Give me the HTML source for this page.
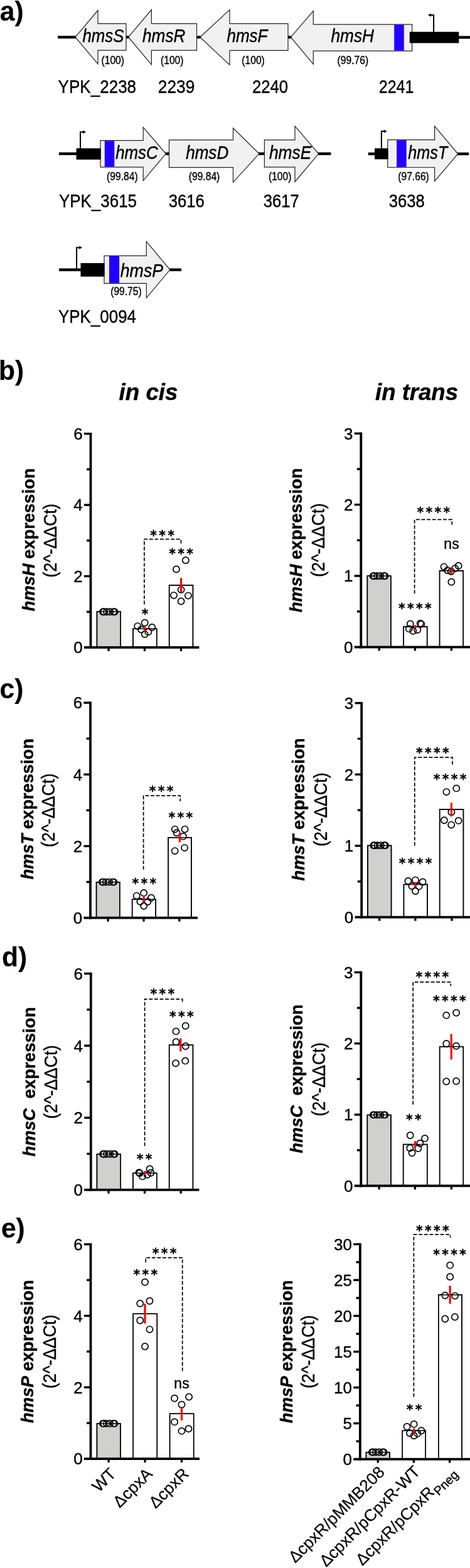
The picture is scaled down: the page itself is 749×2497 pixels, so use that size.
<!DOCTYPE html>
<html lang="en">
<head>
<meta charset="utf-8">
<title>hms loci and expression in cpx mutants</title>
<style>
html,body{margin:0;padding:0;background:#fff}
body{width:749px;height:2497px;overflow:hidden}
svg{display:block;font-family:'Liberation Sans', Arial, Helvetica, sans-serif;fill:#000}
svg text{white-space:pre;stroke:#000;stroke-width:.4px}
</style>
</head>
<body>
<svg width="749" height="2497" viewBox="0 0 749 2497">
<rect x="0" y="0" width="749" height="2497" fill="#fff"/>
<rect x="92" y="57" width="29" height="4.4" fill="#000"/>
<rect x="200" y="57" width="6" height="4.4" fill="#000"/>
<rect x="313" y="57" width="7" height="4.4" fill="#000"/>
<rect x="458" y="57" width="7" height="4.4" fill="#000"/>
<rect x="731" y="57.3" width="18" height="4.4" fill="#000"/>
<rect x="93.9" y="242.6" width="28.1" height="4.4" fill="#000"/>
<rect x="263" y="242.6" width="7" height="4.4" fill="#000"/>
<rect x="411" y="242.6" width="11" height="4.4" fill="#000"/>
<rect x="506" y="242.6" width="21.4" height="4.4" fill="#000"/>
<rect x="586.8" y="242.8" width="11.2" height="4.4" fill="#000"/>
<rect x="728" y="242.8" width="19" height="4.4" fill="#000"/>
<rect x="94.1" y="427.4" width="34.9" height="4.4" fill="#000"/>
<rect x="269.5" y="427.4" width="19.6" height="4.4" fill="#000"/>
<polygon points="120,59.2 156,16.5 156,37.6 201,37.6 201,80.2 156,80.2 156,101.8" fill="#f1f1f1" stroke="#222" stroke-width="1.2" stroke-linejoin="miter"/>
<text x="131.5" y="67.3" font-size="29.5" font-style="italic" textLength="66" lengthAdjust="spacingAndGlyphs">hmsS</text>
<text x="161.5" y="102" font-size="17.6" textLength="36.5" lengthAdjust="spacingAndGlyphs">(100)</text>
<polygon points="204.6,59.2 241.4,15.5 241.4,37.6 313.5,37.6 313.5,80.2 241.4,80.2 241.4,102.8" fill="#f1f1f1" stroke="#222" stroke-width="1.2" stroke-linejoin="miter"/>
<text x="227" y="67.3" font-size="29.5" font-style="italic" textLength="68.5" lengthAdjust="spacingAndGlyphs">hmsR</text>
<text x="256" y="102" font-size="17.6" textLength="36.5" lengthAdjust="spacingAndGlyphs">(100)</text>
<polygon points="318.8,59.2 366,15.5 366,37.6 459,37.6 459,80.4 366,80.4 366,103.4" fill="#f1f1f1" stroke="#222" stroke-width="1.2" stroke-linejoin="miter"/>
<text x="361.5" y="67.3" font-size="29.5" font-style="italic" textLength="65" lengthAdjust="spacingAndGlyphs">hmsF</text>
<text x="385.3" y="102" font-size="17.6" textLength="36.5" lengthAdjust="spacingAndGlyphs">(100)</text>
<polygon points="463.5,59.2 499.3,17.4 499.3,38.8 656.7,38.8 656.7,81.2 499.3,81.2 499.3,102.3" fill="#f1f1f1" stroke="#222" stroke-width="1.2" stroke-linejoin="miter"/>
<rect x="628.2" y="39.4" width="15.6" height="41.2" fill="#2200ff"/>
<text x="527.5" y="67.3" font-size="29.5" font-style="italic" textLength="68.5" lengthAdjust="spacingAndGlyphs">hmsH</text>
<text x="537.6" y="102" font-size="17.6" textLength="49.5" lengthAdjust="spacingAndGlyphs">(99.76)</text>
<polygon points="160,223.7 228.2,223.7 228.2,202.7 264.4,244.8 228.2,287.6 228.2,266.2 160,266.2" fill="#f1f1f1" stroke="#222" stroke-width="1.2" stroke-linejoin="miter"/>
<rect x="166.8" y="224.3" width="15.5" height="41.3" fill="#2200ff"/>
<text x="184.2" y="252.6" font-size="29.5" font-style="italic" textLength="67.5" lengthAdjust="spacingAndGlyphs">hmsC</text>
<text x="170.1" y="287.3" font-size="17.6" textLength="49.5" lengthAdjust="spacingAndGlyphs">(99.84)</text>
<polygon points="269.5,222.9 371.5,222.9 371.5,204 412.9,244.8 371.5,290.3 371.5,266.6 269.5,266.6" fill="#f1f1f1" stroke="#222" stroke-width="1.2" stroke-linejoin="miter"/>
<text x="296.2" y="252.6" font-size="29.5" font-style="italic" textLength="68" lengthAdjust="spacingAndGlyphs">hmsD</text>
<text x="300.8" y="287.3" font-size="17.6" textLength="49.5" lengthAdjust="spacingAndGlyphs">(99.84)</text>
<polygon points="421.4,222.9 470,222.9 470,200.8 507.6,244.8 470,289.5 470,266.2 421.4,266.2" fill="#f1f1f1" stroke="#222" stroke-width="1.2" stroke-linejoin="miter"/>
<text x="428.9" y="252.6" font-size="29.5" font-style="italic" textLength="67.5" lengthAdjust="spacingAndGlyphs">hmsE</text>
<text x="427.9" y="287.3" font-size="17.6" textLength="36.5" lengthAdjust="spacingAndGlyphs">(100)</text>
<polygon points="617.8,222.7 692.6,222.7 692.6,200.8 729.7,245 692.6,288.7 692.6,266.5 617.8,266.5" fill="#f1f1f1" stroke="#222" stroke-width="1.2" stroke-linejoin="miter"/>
<rect x="632.1" y="223.3" width="15.6" height="42.6" fill="#2200ff"/>
<text x="650.3" y="253.2" font-size="29.5" font-style="italic" textLength="63" lengthAdjust="spacingAndGlyphs">hmsT</text>
<text x="634.3" y="286.6" font-size="17.6" textLength="49.5" lengthAdjust="spacingAndGlyphs">(97.66)</text>
<polygon points="166,407.3 233.3,407.3 233.3,384.7 270.9,429.6 233.3,474.3 233.3,451.4 166,451.4" fill="#f1f1f1" stroke="#222" stroke-width="1.2" stroke-linejoin="miter"/>
<rect x="174" y="407.9" width="16.1" height="42.9" fill="#2200ff"/>
<text x="191.7" y="441" font-size="29.5" font-style="italic" textLength="68.5" lengthAdjust="spacingAndGlyphs">hmsP</text>
<text x="176.2" y="470.3" font-size="17.6" textLength="49.5" lengthAdjust="spacingAndGlyphs">(99.75)</text>
<rect x="652.7" y="50.7" width="78.6" height="17.9" fill="#000"/>
<rect x="121.6" y="236.2" width="39" height="18" fill="#000"/>
<rect x="597" y="236.2" width="21.5" height="17.4" fill="#000"/>
<rect x="128.5" y="419" width="38.1" height="21.5" fill="#000"/>
<path d="M691.1 51 V24 H686.5" fill="none" stroke="#000" stroke-width="2" stroke-linejoin="miter"/>
<polygon points="687,21.3 682,24 687,26.7" fill="#000"/>
<path d="M128.1 236.5 V210.2 H132.6" fill="none" stroke="#000" stroke-width="2" stroke-linejoin="miter"/>
<polygon points="132.1,207.5 137.1,210.2 132.1,212.9" fill="#000"/>
<path d="M607.9 236.5 V209.1 H612.3" fill="none" stroke="#000" stroke-width="2" stroke-linejoin="miter"/>
<polygon points="611.8,206.4 616.8,209.1 611.8,211.8" fill="#000"/>
<path d="M122.1 428 V394.2 H126.6" fill="none" stroke="#000" stroke-width="2" stroke-linejoin="miter"/>
<polygon points="126.1,391.5 131.1,394.2 126.1,396.9" fill="#000"/>
<text x="92.6" y="148.4" font-size="30" textLength="124.5" lengthAdjust="spacingAndGlyphs">YPK_2238</text>
<text x="251.8" y="148.4" font-size="30" textLength="58.5" lengthAdjust="spacingAndGlyphs">2239</text>
<text x="401.9" y="148.4" font-size="30" textLength="57.3" lengthAdjust="spacingAndGlyphs">2240</text>
<text x="603.8" y="148.4" font-size="30" textLength="55.6" lengthAdjust="spacingAndGlyphs">2241</text>
<text x="94" y="330" font-size="30" textLength="124" lengthAdjust="spacingAndGlyphs">YPK_3615</text>
<text x="268.8" y="330" font-size="30" textLength="57" lengthAdjust="spacingAndGlyphs">3616</text>
<text x="419.8" y="330" font-size="30" textLength="57" lengthAdjust="spacingAndGlyphs">3617</text>
<text x="619.8" y="330" font-size="30" textLength="57" lengthAdjust="spacingAndGlyphs">3638</text>
<text x="93" y="513.5" font-size="30" textLength="124" lengthAdjust="spacingAndGlyphs">YPK_0094</text>
<text x="-0.3" y="33.3" font-size="44.6" font-weight="bold" textLength="37.9" lengthAdjust="spacingAndGlyphs" style="stroke-width:.15px">a)</text>
<text x="-2.1" y="605.2" font-size="44.6" font-weight="bold" textLength="40.2" lengthAdjust="spacingAndGlyphs" style="stroke-width:.15px">b)</text>
<text x="-0.5" y="1112.2" font-size="44.6" font-weight="bold" textLength="37.9" lengthAdjust="spacingAndGlyphs" style="stroke-width:.15px">c)</text>
<text x="2.9" y="1538.9" font-size="44.6" font-weight="bold" textLength="40.2" lengthAdjust="spacingAndGlyphs" style="stroke-width:.15px">d)</text>
<text x="1.9" y="1970.9" font-size="44.6" font-weight="bold" textLength="37.9" lengthAdjust="spacingAndGlyphs" style="stroke-width:.15px">e)</text>
<text x="189.5" y="636.9" font-size="36" font-weight="bold" font-style="italic" textLength="94" lengthAdjust="spacingAndGlyphs">in cis</text>
<text x="598" y="636.9" font-size="36" font-weight="bold" font-style="italic" textLength="132" lengthAdjust="spacingAndGlyphs">in trans</text>
<rect x="154.45" y="974.05" width="37.8" height="56.95" fill="#d0d0ce" stroke="#000" stroke-width="1.5"/>
<rect x="211.95" y="1001.35" width="37.8" height="29.65" fill="#fff" stroke="#000" stroke-width="1.5"/>
<rect x="269.65" y="931.95" width="37.8" height="99.05" fill="#fff" stroke="#000" stroke-width="1.5"/>
<rect x="142.6" y="689" width="3.8" height="343.9" fill="#000"/>
<rect x="142.6" y="1029.1" width="174.8" height="3.8" fill="#000"/>
<rect x="133.9" y="1029.1" width="10.6" height="3.8" fill="#000"/>
<text x="131.6" y="1040.3" font-size="26" text-anchor="end">0</text>
<rect x="138.1" y="972.58" width="6.4" height="3.4" fill="#000"/>
<rect x="133.9" y="915.87" width="10.6" height="3.4" fill="#000"/>
<text x="131.6" y="926.87" font-size="26" text-anchor="end">2</text>
<rect x="138.1" y="859.15" width="6.4" height="3.4" fill="#000"/>
<rect x="133.9" y="802.43" width="10.6" height="3.4" fill="#000"/>
<text x="131.6" y="813.43" font-size="26" text-anchor="end">4</text>
<rect x="138.1" y="745.72" width="6.4" height="3.4" fill="#000"/>
<rect x="133.9" y="689" width="10.6" height="3.4" fill="#000"/>
<text x="131.6" y="700" font-size="26" text-anchor="end">6</text>
<rect x="171.45" y="1031" width="3.3" height="5.9" fill="#000"/>
<rect x="228.85" y="1031" width="3.3" height="5.9" fill="#000"/>
<rect x="286.85" y="1031" width="3.3" height="5.9" fill="#000"/>
<circle cx="164.05" cy="974.3" r="5.1" fill="#fff"/>
<circle cx="165.65" cy="974.3" r="5.1" fill="#fff"/>
<circle cx="170.05" cy="974.3" r="5.1" fill="#fff"/>
<circle cx="175.45" cy="974.3" r="5.1" fill="#fff"/>
<circle cx="180.95" cy="974.3" r="5.1" fill="#fff"/>
<circle cx="182.65" cy="974.3" r="5.1" fill="#fff"/>
<circle cx="230.7" cy="991.8" r="5.1" fill="#fff"/>
<circle cx="219.3" cy="997.1" r="5.1" fill="#fff"/>
<circle cx="242.3" cy="999" r="5.1" fill="#fff"/>
<circle cx="225.1" cy="1002.5" r="5.1" fill="#fff"/>
<circle cx="236.4" cy="1006.4" r="5.1" fill="#fff"/>
<circle cx="230.7" cy="1010.1" r="5.1" fill="#fff"/>
<circle cx="295.9" cy="892.3" r="5.1" fill="#fff"/>
<circle cx="281" cy="906.5" r="5.1" fill="#fff"/>
<circle cx="288.6" cy="939.1" r="5.1" fill="#fff"/>
<circle cx="277" cy="948.1" r="5.1" fill="#fff"/>
<circle cx="299.9" cy="948.6" r="5.1" fill="#fff"/>
<circle cx="288.6" cy="957.5" r="5.1" fill="#fff"/>
<path d="M154.45 1031 V974.05 H192.25 V1031" fill="none" stroke="#000" stroke-width="1.5"/>
<path d="M211.95 1031 V1001.35 H249.75 V1031" fill="none" stroke="#000" stroke-width="1.5"/>
<path d="M269.65 1031 V931.95 H307.45 V1031" fill="none" stroke="#000" stroke-width="1.5"/>
<circle cx="164.05" cy="974.3" r="5.1" fill="none" stroke="#000" stroke-width="1.7"/>
<circle cx="165.65" cy="974.3" r="5.1" fill="none" stroke="#000" stroke-width="1.7"/>
<circle cx="170.05" cy="974.3" r="5.1" fill="none" stroke="#000" stroke-width="1.7"/>
<circle cx="175.45" cy="974.3" r="5.1" fill="none" stroke="#000" stroke-width="1.7"/>
<circle cx="180.95" cy="974.3" r="5.1" fill="none" stroke="#000" stroke-width="1.7"/>
<circle cx="182.65" cy="974.3" r="5.1" fill="none" stroke="#000" stroke-width="1.7"/>
<circle cx="230.7" cy="991.8" r="5.1" fill="none" stroke="#000" stroke-width="1.7"/>
<circle cx="219.3" cy="997.1" r="5.1" fill="none" stroke="#000" stroke-width="1.7"/>
<circle cx="242.3" cy="999" r="5.1" fill="none" stroke="#000" stroke-width="1.7"/>
<circle cx="225.1" cy="1002.5" r="5.1" fill="none" stroke="#000" stroke-width="1.7"/>
<circle cx="236.4" cy="1006.4" r="5.1" fill="none" stroke="#000" stroke-width="1.7"/>
<circle cx="230.7" cy="1010.1" r="5.1" fill="none" stroke="#000" stroke-width="1.7"/>
<circle cx="295.9" cy="892.3" r="5.1" fill="none" stroke="#000" stroke-width="1.7"/>
<circle cx="281" cy="906.5" r="5.1" fill="none" stroke="#000" stroke-width="1.7"/>
<circle cx="288.6" cy="939.1" r="5.1" fill="none" stroke="#000" stroke-width="1.7"/>
<circle cx="277" cy="948.1" r="5.1" fill="none" stroke="#000" stroke-width="1.7"/>
<circle cx="299.9" cy="948.6" r="5.1" fill="none" stroke="#000" stroke-width="1.7"/>
<circle cx="288.6" cy="957.5" r="5.1" fill="none" stroke="#000" stroke-width="1.7"/>
<line x1="230.7" y1="998.6" x2="230.7" y2="1004.1" stroke="#ff0000" stroke-width="3.2" stroke-linecap="round"/>
<line x1="288.6" y1="921.6" x2="288.6" y2="942.4" stroke="#ff0000" stroke-width="3.2" stroke-linecap="round"/>
<path d="M229.9 962.4 V858.6 H288.4 V865.4" fill="none" stroke="#000" stroke-width="1.7" stroke-dasharray="5.8 2.8"/>
<text x="239.2 253.2 267.2" y="859.9" font-size="20.4" font-family="'DejaVu Sans','Liberation Sans',sans-serif" font-weight="bold" style="stroke-width:.35px">***</text>
<text x="269.2 283.2 297.2" y="888.8" font-size="20.4" font-family="'DejaVu Sans','Liberation Sans',sans-serif" font-weight="bold" style="stroke-width:.35px">***</text>
<text x="225.7" y="984.6" font-size="20.4" font-family="'DejaVu Sans','Liberation Sans',sans-serif" font-weight="bold" style="stroke-width:.35px">*</text>
<text transform="translate(55.4 859.5) rotate(-90)" font-size="27.6" font-weight="bold" text-anchor="middle" textLength="228" lengthAdjust="spacingAndGlyphs"><tspan font-style="italic">hmsH</tspan> expression</text>
<text transform="translate(90.2 860.8) rotate(-90)" font-size="29" text-anchor="middle" textLength="117.7" lengthAdjust="spacingAndGlyphs">(2^-ΔΔCt)</text>
<rect x="585.35" y="917.15" width="37.5" height="113.35" fill="#d0d0ce" stroke="#000" stroke-width="1.5"/>
<rect x="643.15" y="997.95" width="37.5" height="32.55" fill="#fff" stroke="#000" stroke-width="1.5"/>
<rect x="700.55" y="908.95" width="37.7" height="121.55" fill="#fff" stroke="#000" stroke-width="1.5"/>
<rect x="573.4" y="688.6" width="3.8" height="343.8" fill="#000"/>
<rect x="573.4" y="1028.6" width="175.6" height="3.8" fill="#000"/>
<rect x="564.7" y="1028.6" width="10.6" height="3.8" fill="#000"/>
<text x="562.4" y="1039.8" font-size="26" text-anchor="end">0</text>
<rect x="568.9" y="972.1" width="6.4" height="3.4" fill="#000"/>
<rect x="564.7" y="915.4" width="10.6" height="3.4" fill="#000"/>
<text x="562.4" y="926.4" font-size="26" text-anchor="end">1</text>
<rect x="568.9" y="858.7" width="6.4" height="3.4" fill="#000"/>
<rect x="564.7" y="802" width="10.6" height="3.4" fill="#000"/>
<text x="562.4" y="813" font-size="26" text-anchor="end">2</text>
<rect x="568.9" y="745.3" width="6.4" height="3.4" fill="#000"/>
<rect x="564.7" y="688.6" width="10.6" height="3.4" fill="#000"/>
<text x="562.4" y="699.6" font-size="26" text-anchor="end">3</text>
<rect x="602.55" y="1030.5" width="3.3" height="5.9" fill="#000"/>
<rect x="659.75" y="1030.5" width="3.3" height="5.9" fill="#000"/>
<rect x="717.75" y="1030.5" width="3.3" height="5.9" fill="#000"/>
<circle cx="594.8" cy="917.2" r="5.1" fill="#fff"/>
<circle cx="596.4" cy="917.2" r="5.1" fill="#fff"/>
<circle cx="600.8" cy="917.2" r="5.1" fill="#fff"/>
<circle cx="606.2" cy="917.2" r="5.1" fill="#fff"/>
<circle cx="611.7" cy="917.2" r="5.1" fill="#fff"/>
<circle cx="613.4" cy="917.2" r="5.1" fill="#fff"/>
<circle cx="653.8" cy="993.5" r="5.1" fill="#fff"/>
<circle cx="669.8" cy="992.8" r="5.1" fill="#fff"/>
<circle cx="671.4" cy="993.9" r="5.1" fill="#fff"/>
<circle cx="651.8" cy="1001.4" r="5.1" fill="#fff"/>
<circle cx="665.3" cy="1003" r="5.1" fill="#fff"/>
<circle cx="658.3" cy="1004.8" r="5.1" fill="#fff"/>
<circle cx="707.5" cy="902.6" r="5.1" fill="#fff"/>
<circle cx="730.7" cy="901" r="5.1" fill="#fff"/>
<circle cx="725.1" cy="905.3" r="5.1" fill="#fff"/>
<circle cx="713.1" cy="908.2" r="5.1" fill="#fff"/>
<circle cx="718.8" cy="910" r="5.1" fill="#fff"/>
<circle cx="719.4" cy="926.7" r="5.1" fill="#fff"/>
<path d="M585.35 1030.5 V917.15 H622.85 V1030.5" fill="none" stroke="#000" stroke-width="1.5"/>
<path d="M643.15 1030.5 V997.95 H680.65 V1030.5" fill="none" stroke="#000" stroke-width="1.5"/>
<path d="M700.55 1030.5 V908.95 H738.25 V1030.5" fill="none" stroke="#000" stroke-width="1.5"/>
<circle cx="594.8" cy="917.2" r="5.1" fill="none" stroke="#000" stroke-width="1.7"/>
<circle cx="596.4" cy="917.2" r="5.1" fill="none" stroke="#000" stroke-width="1.7"/>
<circle cx="600.8" cy="917.2" r="5.1" fill="none" stroke="#000" stroke-width="1.7"/>
<circle cx="606.2" cy="917.2" r="5.1" fill="none" stroke="#000" stroke-width="1.7"/>
<circle cx="611.7" cy="917.2" r="5.1" fill="none" stroke="#000" stroke-width="1.7"/>
<circle cx="613.4" cy="917.2" r="5.1" fill="none" stroke="#000" stroke-width="1.7"/>
<circle cx="653.8" cy="993.5" r="5.1" fill="none" stroke="#000" stroke-width="1.7"/>
<circle cx="669.8" cy="992.8" r="5.1" fill="none" stroke="#000" stroke-width="1.7"/>
<circle cx="671.4" cy="993.9" r="5.1" fill="none" stroke="#000" stroke-width="1.7"/>
<circle cx="651.8" cy="1001.4" r="5.1" fill="none" stroke="#000" stroke-width="1.7"/>
<circle cx="665.3" cy="1003" r="5.1" fill="none" stroke="#000" stroke-width="1.7"/>
<circle cx="658.3" cy="1004.8" r="5.1" fill="none" stroke="#000" stroke-width="1.7"/>
<circle cx="707.5" cy="902.6" r="5.1" fill="none" stroke="#000" stroke-width="1.7"/>
<circle cx="730.7" cy="901" r="5.1" fill="none" stroke="#000" stroke-width="1.7"/>
<circle cx="725.1" cy="905.3" r="5.1" fill="none" stroke="#000" stroke-width="1.7"/>
<circle cx="713.1" cy="908.2" r="5.1" fill="none" stroke="#000" stroke-width="1.7"/>
<circle cx="718.8" cy="910" r="5.1" fill="none" stroke="#000" stroke-width="1.7"/>
<circle cx="719.4" cy="926.7" r="5.1" fill="none" stroke="#000" stroke-width="1.7"/>
<line x1="661.7" y1="996.6" x2="661.7" y2="999.8" stroke="#ff0000" stroke-width="3.2" stroke-linecap="round"/>
<line x1="719.4" y1="906" x2="719.4" y2="912.7" stroke="#ff0000" stroke-width="3.2" stroke-linecap="round"/>
<path d="M660.6 945.4 V827.4 H720.3 V835.7" fill="none" stroke="#000" stroke-width="1.7" stroke-dasharray="5.8 2.8"/>
<text x="664.5 678.5 692.5 706.5" y="822.7" font-size="20.4" font-family="'DejaVu Sans','Liberation Sans',sans-serif" font-weight="bold" style="stroke-width:.35px">****</text>
<text x="635.1 649.1 663.1 677.1" y="975.7" font-size="20.4" font-family="'DejaVu Sans','Liberation Sans',sans-serif" font-weight="bold" style="stroke-width:.35px">****</text>
<text x="719.5" y="873.9" font-size="23" text-anchor="middle">ns</text>
<text transform="translate(481.3 860.3) rotate(-90)" font-size="27.6" font-weight="bold" text-anchor="middle" textLength="230" lengthAdjust="spacingAndGlyphs"><tspan font-style="italic">hmsH</tspan> expression</text>
<text transform="translate(516.9 860.2) rotate(-90)" font-size="29" text-anchor="middle" textLength="117.7" lengthAdjust="spacingAndGlyphs">(2^-ΔΔCt)</text>
<rect x="153.55" y="1404.75" width="37.2" height="56.85" fill="#d0d0ce" stroke="#000" stroke-width="1.5"/>
<rect x="210.65" y="1432.15" width="37.5" height="29.45" fill="#fff" stroke="#000" stroke-width="1.5"/>
<rect x="268.15" y="1333.75" width="36.8" height="127.85" fill="#fff" stroke="#000" stroke-width="1.5"/>
<rect x="142.1" y="1117.4" width="3.8" height="346.1" fill="#000"/>
<rect x="142.1" y="1459.7" width="172.9" height="3.8" fill="#000"/>
<rect x="133.4" y="1459.7" width="10.6" height="3.8" fill="#000"/>
<text x="131.1" y="1470.9" font-size="26" text-anchor="end">0</text>
<rect x="137.6" y="1402.82" width="6.4" height="3.4" fill="#000"/>
<rect x="133.4" y="1345.73" width="10.6" height="3.4" fill="#000"/>
<text x="131.1" y="1356.73" font-size="26" text-anchor="end">2</text>
<rect x="137.6" y="1288.65" width="6.4" height="3.4" fill="#000"/>
<rect x="133.4" y="1231.57" width="10.6" height="3.4" fill="#000"/>
<text x="131.1" y="1242.57" font-size="26" text-anchor="end">4</text>
<rect x="137.6" y="1174.48" width="6.4" height="3.4" fill="#000"/>
<rect x="133.4" y="1117.4" width="10.6" height="3.4" fill="#000"/>
<text x="131.1" y="1128.4" font-size="26" text-anchor="end">6</text>
<rect x="170.55" y="1461.6" width="3.3" height="5.9" fill="#000"/>
<rect x="227.35" y="1461.6" width="3.3" height="5.9" fill="#000"/>
<rect x="284.15" y="1461.6" width="3.3" height="5.9" fill="#000"/>
<circle cx="162.85" cy="1404.6" r="5.1" fill="#fff"/>
<circle cx="164.45" cy="1404.6" r="5.1" fill="#fff"/>
<circle cx="168.85" cy="1404.6" r="5.1" fill="#fff"/>
<circle cx="174.25" cy="1404.6" r="5.1" fill="#fff"/>
<circle cx="179.75" cy="1404.6" r="5.1" fill="#fff"/>
<circle cx="181.45" cy="1404.6" r="5.1" fill="#fff"/>
<circle cx="229.2" cy="1421.9" r="5.1" fill="#fff"/>
<circle cx="217.7" cy="1426.6" r="5.1" fill="#fff"/>
<circle cx="241" cy="1429.7" r="5.1" fill="#fff"/>
<circle cx="223.4" cy="1435.7" r="5.1" fill="#fff"/>
<circle cx="235.4" cy="1436" r="5.1" fill="#fff"/>
<circle cx="229.2" cy="1442.7" r="5.1" fill="#fff"/>
<circle cx="278.7" cy="1320.6" r="5.1" fill="#fff"/>
<circle cx="294.6" cy="1320.6" r="5.1" fill="#fff"/>
<circle cx="281.6" cy="1326.2" r="5.1" fill="#fff"/>
<circle cx="291.9" cy="1331.9" r="5.1" fill="#fff"/>
<circle cx="294.1" cy="1350.1" r="5.1" fill="#fff"/>
<circle cx="278.7" cy="1355.1" r="5.1" fill="#fff"/>
<path d="M153.55 1461.6 V1404.75 H190.75 V1461.6" fill="none" stroke="#000" stroke-width="1.5"/>
<path d="M210.65 1461.6 V1432.15 H248.15 V1461.6" fill="none" stroke="#000" stroke-width="1.5"/>
<path d="M268.15 1461.6 V1333.75 H304.95 V1461.6" fill="none" stroke="#000" stroke-width="1.5"/>
<circle cx="162.85" cy="1404.6" r="5.1" fill="none" stroke="#000" stroke-width="1.7"/>
<circle cx="164.45" cy="1404.6" r="5.1" fill="none" stroke="#000" stroke-width="1.7"/>
<circle cx="168.85" cy="1404.6" r="5.1" fill="none" stroke="#000" stroke-width="1.7"/>
<circle cx="174.25" cy="1404.6" r="5.1" fill="none" stroke="#000" stroke-width="1.7"/>
<circle cx="179.75" cy="1404.6" r="5.1" fill="none" stroke="#000" stroke-width="1.7"/>
<circle cx="181.45" cy="1404.6" r="5.1" fill="none" stroke="#000" stroke-width="1.7"/>
<circle cx="229.2" cy="1421.9" r="5.1" fill="none" stroke="#000" stroke-width="1.7"/>
<circle cx="217.7" cy="1426.6" r="5.1" fill="none" stroke="#000" stroke-width="1.7"/>
<circle cx="241" cy="1429.7" r="5.1" fill="none" stroke="#000" stroke-width="1.7"/>
<circle cx="223.4" cy="1435.7" r="5.1" fill="none" stroke="#000" stroke-width="1.7"/>
<circle cx="235.4" cy="1436" r="5.1" fill="none" stroke="#000" stroke-width="1.7"/>
<circle cx="229.2" cy="1442.7" r="5.1" fill="none" stroke="#000" stroke-width="1.7"/>
<circle cx="278.7" cy="1320.6" r="5.1" fill="none" stroke="#000" stroke-width="1.7"/>
<circle cx="294.6" cy="1320.6" r="5.1" fill="none" stroke="#000" stroke-width="1.7"/>
<circle cx="281.6" cy="1326.2" r="5.1" fill="none" stroke="#000" stroke-width="1.7"/>
<circle cx="291.9" cy="1331.9" r="5.1" fill="none" stroke="#000" stroke-width="1.7"/>
<circle cx="294.1" cy="1350.1" r="5.1" fill="none" stroke="#000" stroke-width="1.7"/>
<circle cx="278.7" cy="1355.1" r="5.1" fill="none" stroke="#000" stroke-width="1.7"/>
<line x1="229.2" y1="1429.1" x2="229.2" y2="1435.4" stroke="#ff0000" stroke-width="3.2" stroke-linecap="round"/>
<line x1="286.4" y1="1328" x2="286.4" y2="1340.1" stroke="#ff0000" stroke-width="3.2" stroke-linecap="round"/>
<path d="M228.6 1384.7 V1267.2 H287.3 V1276.3" fill="none" stroke="#000" stroke-width="1.7" stroke-dasharray="5.8 2.8"/>
<text x="237.7 251.7 265.7" y="1267" font-size="20.4" font-family="'DejaVu Sans','Liberation Sans',sans-serif" font-weight="bold" style="stroke-width:.35px">***</text>
<text x="268.4 282.4 296.4" y="1308.7" font-size="20.4" font-family="'DejaVu Sans','Liberation Sans',sans-serif" font-weight="bold" style="stroke-width:.35px">***</text>
<text x="210.4 224.4 238.4" y="1414.1" font-size="20.4" font-family="'DejaVu Sans','Liberation Sans',sans-serif" font-weight="bold" style="stroke-width:.35px">***</text>
<text transform="translate(52.6 1288.3) rotate(-90)" font-size="27.6" font-weight="bold" text-anchor="middle" textLength="224.5" lengthAdjust="spacingAndGlyphs"><tspan font-style="italic">hmsT</tspan> expression</text>
<text transform="translate(87.2 1290.3) rotate(-90)" font-size="29" text-anchor="middle" textLength="117.7" lengthAdjust="spacingAndGlyphs">(2^-ΔΔCt)</text>
<rect x="585.95" y="1346.45" width="37.6" height="114.15" fill="#d0d0ce" stroke="#000" stroke-width="1.5"/>
<rect x="643.45" y="1408.5" width="37.6" height="52.1" fill="#fff" stroke="#000" stroke-width="1.5"/>
<rect x="700.65" y="1288.95" width="37.8" height="171.65" fill="#fff" stroke="#000" stroke-width="1.5"/>
<rect x="574.3" y="1117.9" width="3.8" height="344.6" fill="#000"/>
<rect x="574.3" y="1458.7" width="174.7" height="3.8" fill="#000"/>
<rect x="565.6" y="1458.7" width="10.6" height="3.8" fill="#000"/>
<text x="563.3" y="1469.9" font-size="26" text-anchor="end">0</text>
<rect x="569.8" y="1402.07" width="6.4" height="3.4" fill="#000"/>
<rect x="565.6" y="1345.23" width="10.6" height="3.4" fill="#000"/>
<text x="563.3" y="1356.23" font-size="26" text-anchor="end">1</text>
<rect x="569.8" y="1288.4" width="6.4" height="3.4" fill="#000"/>
<rect x="565.6" y="1231.57" width="10.6" height="3.4" fill="#000"/>
<text x="563.3" y="1242.57" font-size="26" text-anchor="end">2</text>
<rect x="569.8" y="1174.73" width="6.4" height="3.4" fill="#000"/>
<rect x="565.6" y="1117.9" width="10.6" height="3.4" fill="#000"/>
<text x="563.3" y="1128.9" font-size="26" text-anchor="end">3</text>
<rect x="603.05" y="1460.6" width="3.3" height="5.9" fill="#000"/>
<rect x="660.25" y="1460.6" width="3.3" height="5.9" fill="#000"/>
<rect x="718.35" y="1460.6" width="3.3" height="5.9" fill="#000"/>
<circle cx="595.45" cy="1346.3" r="5.1" fill="#fff"/>
<circle cx="597.05" cy="1346.3" r="5.1" fill="#fff"/>
<circle cx="601.45" cy="1346.3" r="5.1" fill="#fff"/>
<circle cx="606.85" cy="1346.3" r="5.1" fill="#fff"/>
<circle cx="612.35" cy="1346.3" r="5.1" fill="#fff"/>
<circle cx="614.05" cy="1346.3" r="5.1" fill="#fff"/>
<circle cx="662" cy="1401.6" r="5.1" fill="#fff"/>
<circle cx="650.4" cy="1403" r="5.1" fill="#fff"/>
<circle cx="673.6" cy="1404.4" r="5.1" fill="#fff"/>
<circle cx="656.4" cy="1411" r="5.1" fill="#fff"/>
<circle cx="667.7" cy="1411.4" r="5.1" fill="#fff"/>
<circle cx="662" cy="1419" r="5.1" fill="#fff"/>
<circle cx="727.3" cy="1255.4" r="5.1" fill="#fff"/>
<circle cx="711.5" cy="1261.1" r="5.1" fill="#fff"/>
<circle cx="719.4" cy="1293.3" r="5.1" fill="#fff"/>
<circle cx="707.9" cy="1306.2" r="5.1" fill="#fff"/>
<circle cx="730.7" cy="1306.9" r="5.1" fill="#fff"/>
<circle cx="719.2" cy="1313.6" r="5.1" fill="#fff"/>
<path d="M585.95 1460.6 V1346.45 H623.55 V1460.6" fill="none" stroke="#000" stroke-width="1.5"/>
<path d="M643.45 1460.6 V1408.5 H681.05 V1460.6" fill="none" stroke="#000" stroke-width="1.5"/>
<path d="M700.65 1460.6 V1288.95 H738.45 V1460.6" fill="none" stroke="#000" stroke-width="1.5"/>
<circle cx="595.45" cy="1346.3" r="5.1" fill="none" stroke="#000" stroke-width="1.7"/>
<circle cx="597.05" cy="1346.3" r="5.1" fill="none" stroke="#000" stroke-width="1.7"/>
<circle cx="601.45" cy="1346.3" r="5.1" fill="none" stroke="#000" stroke-width="1.7"/>
<circle cx="606.85" cy="1346.3" r="5.1" fill="none" stroke="#000" stroke-width="1.7"/>
<circle cx="612.35" cy="1346.3" r="5.1" fill="none" stroke="#000" stroke-width="1.7"/>
<circle cx="614.05" cy="1346.3" r="5.1" fill="none" stroke="#000" stroke-width="1.7"/>
<circle cx="662" cy="1401.6" r="5.1" fill="none" stroke="#000" stroke-width="1.7"/>
<circle cx="650.4" cy="1403" r="5.1" fill="none" stroke="#000" stroke-width="1.7"/>
<circle cx="673.6" cy="1404.4" r="5.1" fill="none" stroke="#000" stroke-width="1.7"/>
<circle cx="656.4" cy="1411" r="5.1" fill="none" stroke="#000" stroke-width="1.7"/>
<circle cx="667.7" cy="1411.4" r="5.1" fill="none" stroke="#000" stroke-width="1.7"/>
<circle cx="662" cy="1419" r="5.1" fill="none" stroke="#000" stroke-width="1.7"/>
<circle cx="727.3" cy="1255.4" r="5.1" fill="none" stroke="#000" stroke-width="1.7"/>
<circle cx="711.5" cy="1261.1" r="5.1" fill="none" stroke="#000" stroke-width="1.7"/>
<circle cx="719.4" cy="1293.3" r="5.1" fill="none" stroke="#000" stroke-width="1.7"/>
<circle cx="707.9" cy="1306.2" r="5.1" fill="none" stroke="#000" stroke-width="1.7"/>
<circle cx="730.7" cy="1306.9" r="5.1" fill="none" stroke="#000" stroke-width="1.7"/>
<circle cx="719.2" cy="1313.6" r="5.1" fill="none" stroke="#000" stroke-width="1.7"/>
<line x1="661.8" y1="1406" x2="661.8" y2="1411.1" stroke="#ff0000" stroke-width="3.2" stroke-linecap="round"/>
<line x1="719.4" y1="1279.6" x2="719.4" y2="1299" stroke="#ff0000" stroke-width="3.2" stroke-linecap="round"/>
<path d="M660.8 1346.8 V1206.2 H721 V1218.2" fill="none" stroke="#000" stroke-width="1.7" stroke-dasharray="5.8 2.8"/>
<text x="663 677 691 705" y="1206" font-size="20.4" font-family="'DejaVu Sans','Liberation Sans',sans-serif" font-weight="bold" style="stroke-width:.35px">****</text>
<text x="690.7 704.7 718.7 732.7" y="1248.2" font-size="20.4" font-family="'DejaVu Sans','Liberation Sans',sans-serif" font-weight="bold" style="stroke-width:.35px">****</text>
<text x="635.8 649.8 663.8 677.8" y="1382.3" font-size="20.4" font-family="'DejaVu Sans','Liberation Sans',sans-serif" font-weight="bold" style="stroke-width:.35px">****</text>
<text transform="translate(485.4 1289) rotate(-90)" font-size="27.6" font-weight="bold" text-anchor="middle" textLength="227.5" lengthAdjust="spacingAndGlyphs"><tspan font-style="italic">hmsT</tspan> expression</text>
<text transform="translate(520.9 1289.2) rotate(-90)" font-size="29" text-anchor="middle" textLength="117.7" lengthAdjust="spacingAndGlyphs">(2^-ΔΔCt)</text>
<rect x="154.45" y="1837.85" width="37.8" height="56.95" fill="#d0d0ce" stroke="#000" stroke-width="1.5"/>
<rect x="211.95" y="1868.25" width="37.8" height="26.55" fill="#fff" stroke="#000" stroke-width="1.5"/>
<rect x="269.65" y="1664.15" width="37.8" height="230.65" fill="#fff" stroke="#000" stroke-width="1.5"/>
<rect x="142.9" y="1548.7" width="3.8" height="348" fill="#000"/>
<rect x="142.9" y="1892.9" width="174.5" height="3.8" fill="#000"/>
<rect x="134.2" y="1892.9" width="10.6" height="3.8" fill="#000"/>
<text x="131.9" y="1904.1" font-size="26" text-anchor="end">0</text>
<rect x="138.4" y="1835.7" width="6.4" height="3.4" fill="#000"/>
<rect x="134.2" y="1778.3" width="10.6" height="3.4" fill="#000"/>
<text x="131.9" y="1789.3" font-size="26" text-anchor="end">2</text>
<rect x="138.4" y="1720.9" width="6.4" height="3.4" fill="#000"/>
<rect x="134.2" y="1663.5" width="10.6" height="3.4" fill="#000"/>
<text x="131.9" y="1674.5" font-size="26" text-anchor="end">4</text>
<rect x="138.4" y="1606.1" width="6.4" height="3.4" fill="#000"/>
<rect x="134.2" y="1548.7" width="10.6" height="3.4" fill="#000"/>
<text x="131.9" y="1559.7" font-size="26" text-anchor="end">6</text>
<rect x="171.45" y="1894.8" width="3.3" height="5.9" fill="#000"/>
<rect x="228.85" y="1894.8" width="3.3" height="5.9" fill="#000"/>
<rect x="286.55" y="1894.8" width="3.3" height="5.9" fill="#000"/>
<circle cx="164.05" cy="1837.7" r="5.1" fill="#fff"/>
<circle cx="165.65" cy="1837.7" r="5.1" fill="#fff"/>
<circle cx="170.05" cy="1837.7" r="5.1" fill="#fff"/>
<circle cx="175.45" cy="1837.7" r="5.1" fill="#fff"/>
<circle cx="180.95" cy="1837.7" r="5.1" fill="#fff"/>
<circle cx="182.65" cy="1837.7" r="5.1" fill="#fff"/>
<circle cx="238.6" cy="1861.4" r="5.1" fill="#fff"/>
<circle cx="221.6" cy="1867.2" r="5.1" fill="#fff"/>
<circle cx="222.6" cy="1868.2" r="5.1" fill="#fff"/>
<circle cx="240.4" cy="1867.7" r="5.1" fill="#fff"/>
<circle cx="234.7" cy="1870.7" r="5.1" fill="#fff"/>
<circle cx="227" cy="1873.4" r="5.1" fill="#fff"/>
<circle cx="295.7" cy="1633.8" r="5.1" fill="#fff"/>
<circle cx="280.5" cy="1642.4" r="5.1" fill="#fff"/>
<circle cx="280.5" cy="1659.2" r="5.1" fill="#fff"/>
<circle cx="295.7" cy="1666" r="5.1" fill="#fff"/>
<circle cx="295.3" cy="1689.4" r="5.1" fill="#fff"/>
<circle cx="280" cy="1693.2" r="5.1" fill="#fff"/>
<path d="M154.45 1894.8 V1837.85 H192.25 V1894.8" fill="none" stroke="#000" stroke-width="1.5"/>
<path d="M211.95 1894.8 V1868.25 H249.75 V1894.8" fill="none" stroke="#000" stroke-width="1.5"/>
<path d="M269.65 1894.8 V1664.15 H307.45 V1894.8" fill="none" stroke="#000" stroke-width="1.5"/>
<circle cx="164.05" cy="1837.7" r="5.1" fill="none" stroke="#000" stroke-width="1.7"/>
<circle cx="165.65" cy="1837.7" r="5.1" fill="none" stroke="#000" stroke-width="1.7"/>
<circle cx="170.05" cy="1837.7" r="5.1" fill="none" stroke="#000" stroke-width="1.7"/>
<circle cx="175.45" cy="1837.7" r="5.1" fill="none" stroke="#000" stroke-width="1.7"/>
<circle cx="180.95" cy="1837.7" r="5.1" fill="none" stroke="#000" stroke-width="1.7"/>
<circle cx="182.65" cy="1837.7" r="5.1" fill="none" stroke="#000" stroke-width="1.7"/>
<circle cx="238.6" cy="1861.4" r="5.1" fill="none" stroke="#000" stroke-width="1.7"/>
<circle cx="221.6" cy="1867.2" r="5.1" fill="none" stroke="#000" stroke-width="1.7"/>
<circle cx="222.6" cy="1868.2" r="5.1" fill="none" stroke="#000" stroke-width="1.7"/>
<circle cx="240.4" cy="1867.7" r="5.1" fill="none" stroke="#000" stroke-width="1.7"/>
<circle cx="234.7" cy="1870.7" r="5.1" fill="none" stroke="#000" stroke-width="1.7"/>
<circle cx="227" cy="1873.4" r="5.1" fill="none" stroke="#000" stroke-width="1.7"/>
<circle cx="295.7" cy="1633.8" r="5.1" fill="none" stroke="#000" stroke-width="1.7"/>
<circle cx="280.5" cy="1642.4" r="5.1" fill="none" stroke="#000" stroke-width="1.7"/>
<circle cx="280.5" cy="1659.2" r="5.1" fill="none" stroke="#000" stroke-width="1.7"/>
<circle cx="295.7" cy="1666" r="5.1" fill="none" stroke="#000" stroke-width="1.7"/>
<circle cx="295.3" cy="1689.4" r="5.1" fill="none" stroke="#000" stroke-width="1.7"/>
<circle cx="280" cy="1693.2" r="5.1" fill="none" stroke="#000" stroke-width="1.7"/>
<line x1="230.7" y1="1866.3" x2="230.7" y2="1869.8" stroke="#ff0000" stroke-width="3.2" stroke-linecap="round"/>
<line x1="287.8" y1="1654.6" x2="287.8" y2="1673" stroke="#ff0000" stroke-width="3.2" stroke-linecap="round"/>
<path d="M230.6 1825.1 V1591.1 H290.7 V1595.2" fill="none" stroke="#000" stroke-width="1.7" stroke-dasharray="5.8 2.8"/>
<text x="239.4 253.4 267.4" y="1590.1" font-size="20.4" font-family="'DejaVu Sans','Liberation Sans',sans-serif" font-weight="bold" style="stroke-width:.35px">***</text>
<text x="269.9 283.9 297.9" y="1625.6" font-size="20.4" font-family="'DejaVu Sans','Liberation Sans',sans-serif" font-weight="bold" style="stroke-width:.35px">***</text>
<text x="217.7 231.7" y="1852.7" font-size="20.4" font-family="'DejaVu Sans','Liberation Sans',sans-serif" font-weight="bold" style="stroke-width:.35px">**</text>
<text transform="translate(56.3 1722.7) rotate(-90)" font-size="27.6" font-weight="bold" text-anchor="middle" textLength="238" lengthAdjust="spacingAndGlyphs"><tspan font-style="italic">hmsC</tspan>  expression</text>
<text transform="translate(91.3 1723) rotate(-90)" font-size="29" text-anchor="middle" textLength="117.7" lengthAdjust="spacingAndGlyphs">(2^-ΔΔCt)</text>
<rect x="585.35" y="1775.55" width="37.6" height="112.85" fill="#d0d0ce" stroke="#000" stroke-width="1.5"/>
<rect x="642.65" y="1822.45" width="38.1" height="65.95" fill="#fff" stroke="#000" stroke-width="1.5"/>
<rect x="700.65" y="1666.65" width="37.7" height="221.75" fill="#fff" stroke="#000" stroke-width="1.5"/>
<rect x="573.4" y="1546.7" width="3.8" height="343.6" fill="#000"/>
<rect x="573.4" y="1886.5" width="175.6" height="3.8" fill="#000"/>
<rect x="564.7" y="1886.5" width="10.6" height="3.8" fill="#000"/>
<text x="562.4" y="1897.7" font-size="26" text-anchor="end">0</text>
<rect x="568.9" y="1830.03" width="6.4" height="3.4" fill="#000"/>
<rect x="564.7" y="1773.37" width="10.6" height="3.4" fill="#000"/>
<text x="562.4" y="1784.37" font-size="26" text-anchor="end">1</text>
<rect x="568.9" y="1716.7" width="6.4" height="3.4" fill="#000"/>
<rect x="564.7" y="1660.03" width="10.6" height="3.4" fill="#000"/>
<text x="562.4" y="1671.03" font-size="26" text-anchor="end">2</text>
<rect x="568.9" y="1603.37" width="6.4" height="3.4" fill="#000"/>
<rect x="564.7" y="1546.7" width="10.6" height="3.4" fill="#000"/>
<text x="562.4" y="1557.7" font-size="26" text-anchor="end">3</text>
<rect x="602.55" y="1888.4" width="3.3" height="5.9" fill="#000"/>
<rect x="659.75" y="1888.4" width="3.3" height="5.9" fill="#000"/>
<rect x="717.75" y="1888.4" width="3.3" height="5.9" fill="#000"/>
<circle cx="594.8" cy="1775.4" r="5.1" fill="#fff"/>
<circle cx="596.4" cy="1775.4" r="5.1" fill="#fff"/>
<circle cx="600.8" cy="1775.4" r="5.1" fill="#fff"/>
<circle cx="606.2" cy="1775.4" r="5.1" fill="#fff"/>
<circle cx="611.7" cy="1775.4" r="5.1" fill="#fff"/>
<circle cx="613.4" cy="1775.4" r="5.1" fill="#fff"/>
<circle cx="653.7" cy="1808" r="5.1" fill="#fff"/>
<circle cx="677.05" cy="1812.9" r="5.1" fill="#fff"/>
<circle cx="669.4" cy="1820.7" r="5.1" fill="#fff"/>
<circle cx="653.35" cy="1828.2" r="5.1" fill="#fff"/>
<circle cx="666.4" cy="1828.7" r="5.1" fill="#fff"/>
<circle cx="656.6" cy="1836.05" r="5.1" fill="#fff"/>
<circle cx="727.1" cy="1612.8" r="5.1" fill="#fff"/>
<circle cx="711.3" cy="1616.9" r="5.1" fill="#fff"/>
<circle cx="711.3" cy="1662" r="5.1" fill="#fff"/>
<circle cx="727.1" cy="1665.8" r="5.1" fill="#fff"/>
<circle cx="711.3" cy="1722.2" r="5.1" fill="#fff"/>
<circle cx="727.1" cy="1721.8" r="5.1" fill="#fff"/>
<path d="M585.35 1888.4 V1775.55 H622.95 V1888.4" fill="none" stroke="#000" stroke-width="1.5"/>
<path d="M642.65 1888.4 V1822.45 H680.75 V1888.4" fill="none" stroke="#000" stroke-width="1.5"/>
<path d="M700.65 1888.4 V1666.65 H738.35 V1888.4" fill="none" stroke="#000" stroke-width="1.5"/>
<circle cx="594.8" cy="1775.4" r="5.1" fill="none" stroke="#000" stroke-width="1.7"/>
<circle cx="596.4" cy="1775.4" r="5.1" fill="none" stroke="#000" stroke-width="1.7"/>
<circle cx="600.8" cy="1775.4" r="5.1" fill="none" stroke="#000" stroke-width="1.7"/>
<circle cx="606.2" cy="1775.4" r="5.1" fill="none" stroke="#000" stroke-width="1.7"/>
<circle cx="611.7" cy="1775.4" r="5.1" fill="none" stroke="#000" stroke-width="1.7"/>
<circle cx="613.4" cy="1775.4" r="5.1" fill="none" stroke="#000" stroke-width="1.7"/>
<circle cx="653.7" cy="1808" r="5.1" fill="none" stroke="#000" stroke-width="1.7"/>
<circle cx="677.05" cy="1812.9" r="5.1" fill="none" stroke="#000" stroke-width="1.7"/>
<circle cx="669.4" cy="1820.7" r="5.1" fill="none" stroke="#000" stroke-width="1.7"/>
<circle cx="653.35" cy="1828.2" r="5.1" fill="none" stroke="#000" stroke-width="1.7"/>
<circle cx="666.4" cy="1828.7" r="5.1" fill="none" stroke="#000" stroke-width="1.7"/>
<circle cx="656.6" cy="1836.05" r="5.1" fill="none" stroke="#000" stroke-width="1.7"/>
<circle cx="727.1" cy="1612.8" r="5.1" fill="none" stroke="#000" stroke-width="1.7"/>
<circle cx="711.3" cy="1616.9" r="5.1" fill="none" stroke="#000" stroke-width="1.7"/>
<circle cx="711.3" cy="1662" r="5.1" fill="none" stroke="#000" stroke-width="1.7"/>
<circle cx="727.1" cy="1665.8" r="5.1" fill="none" stroke="#000" stroke-width="1.7"/>
<circle cx="711.3" cy="1722.2" r="5.1" fill="none" stroke="#000" stroke-width="1.7"/>
<circle cx="727.1" cy="1721.8" r="5.1" fill="none" stroke="#000" stroke-width="1.7"/>
<line x1="661.5" y1="1818.3" x2="661.5" y2="1827.1" stroke="#ff0000" stroke-width="3.2" stroke-linecap="round"/>
<line x1="719.2" y1="1647.8" x2="719.2" y2="1685.9" stroke="#ff0000" stroke-width="3.2" stroke-linecap="round"/>
<path d="M658.2 1759 V1563.8 H718.3 V1570.2" fill="none" stroke="#000" stroke-width="1.7" stroke-dasharray="5.8 2.8"/>
<text x="662.4 676.4 690.4 704.4" y="1562.5" font-size="20.4" font-family="'DejaVu Sans','Liberation Sans',sans-serif" font-weight="bold" style="stroke-width:.35px">****</text>
<text x="689.9 703.9 717.9 731.9" y="1600.9" font-size="20.4" font-family="'DejaVu Sans','Liberation Sans',sans-serif" font-weight="bold" style="stroke-width:.35px">****</text>
<text x="646.9 660.9" y="1790.3" font-size="20.4" font-family="'DejaVu Sans','Liberation Sans',sans-serif" font-weight="bold" style="stroke-width:.35px">**</text>
<text transform="translate(482.4 1718) rotate(-90)" font-size="27.6" font-weight="bold" text-anchor="middle" textLength="237" lengthAdjust="spacingAndGlyphs"><tspan font-style="italic">hmsC</tspan>  expression</text>
<text transform="translate(518.2 1718.8) rotate(-90)" font-size="29" text-anchor="middle" textLength="117.7" lengthAdjust="spacingAndGlyphs">(2^-ΔΔCt)</text>
<rect x="154.45" y="2267.05" width="37.5" height="56.05" fill="#d0d0ce" stroke="#000" stroke-width="1.5"/>
<rect x="212.25" y="2092.25" width="38.1" height="230.85" fill="#fff" stroke="#000" stroke-width="1.5"/>
<rect x="270.55" y="2251.35" width="38.1" height="71.75" fill="#fff" stroke="#000" stroke-width="1.5"/>
<rect x="142.6" y="1979.8" width="3.8" height="345.2" fill="#000"/>
<rect x="142.6" y="2321.2" width="175.4" height="3.8" fill="#000"/>
<rect x="133.9" y="2321.2" width="10.6" height="3.8" fill="#000"/>
<text x="131.6" y="2332.4" font-size="26" text-anchor="end">0</text>
<rect x="138.1" y="2264.47" width="6.4" height="3.4" fill="#000"/>
<rect x="133.9" y="2207.53" width="10.6" height="3.4" fill="#000"/>
<text x="131.6" y="2218.53" font-size="26" text-anchor="end">2</text>
<rect x="138.1" y="2150.6" width="6.4" height="3.4" fill="#000"/>
<rect x="133.9" y="2093.67" width="10.6" height="3.4" fill="#000"/>
<text x="131.6" y="2104.67" font-size="26" text-anchor="end">4</text>
<rect x="138.1" y="2036.73" width="6.4" height="3.4" fill="#000"/>
<rect x="133.9" y="1979.8" width="10.6" height="3.4" fill="#000"/>
<text x="131.6" y="1990.8" font-size="26" text-anchor="end">6</text>
<rect x="171.45" y="2323.1" width="3.3" height="5.9" fill="#000"/>
<rect x="229.45" y="2323.1" width="3.3" height="5.9" fill="#000"/>
<rect x="287.85" y="2323.1" width="3.3" height="5.9" fill="#000"/>
<circle cx="163.9" cy="2266.9" r="5.1" fill="#fff"/>
<circle cx="165.5" cy="2266.9" r="5.1" fill="#fff"/>
<circle cx="169.9" cy="2266.9" r="5.1" fill="#fff"/>
<circle cx="175.3" cy="2266.9" r="5.1" fill="#fff"/>
<circle cx="180.8" cy="2266.9" r="5.1" fill="#fff"/>
<circle cx="182.5" cy="2266.9" r="5.1" fill="#fff"/>
<circle cx="231" cy="2041.7" r="5.1" fill="#fff"/>
<circle cx="238.5" cy="2071.7" r="5.1" fill="#fff"/>
<circle cx="223.3" cy="2075.8" r="5.1" fill="#fff"/>
<circle cx="223.3" cy="2102.8" r="5.1" fill="#fff"/>
<circle cx="238.5" cy="2117.1" r="5.1" fill="#fff"/>
<circle cx="231" cy="2144.3" r="5.1" fill="#fff"/>
<circle cx="278.1" cy="2226.7" r="5.1" fill="#fff"/>
<circle cx="301.1" cy="2224.5" r="5.1" fill="#fff"/>
<circle cx="289.5" cy="2236.8" r="5.1" fill="#fff"/>
<circle cx="278.1" cy="2264.4" r="5.1" fill="#fff"/>
<circle cx="300.5" cy="2275.2" r="5.1" fill="#fff"/>
<circle cx="289.5" cy="2278.9" r="5.1" fill="#fff"/>
<path d="M154.45 2323.1 V2267.05 H191.95 V2323.1" fill="none" stroke="#000" stroke-width="1.5"/>
<path d="M212.25 2323.1 V2092.25 H250.35 V2323.1" fill="none" stroke="#000" stroke-width="1.5"/>
<path d="M270.55 2323.1 V2251.35 H308.65 V2323.1" fill="none" stroke="#000" stroke-width="1.5"/>
<circle cx="163.9" cy="2266.9" r="5.1" fill="none" stroke="#000" stroke-width="1.7"/>
<circle cx="165.5" cy="2266.9" r="5.1" fill="none" stroke="#000" stroke-width="1.7"/>
<circle cx="169.9" cy="2266.9" r="5.1" fill="none" stroke="#000" stroke-width="1.7"/>
<circle cx="175.3" cy="2266.9" r="5.1" fill="none" stroke="#000" stroke-width="1.7"/>
<circle cx="180.8" cy="2266.9" r="5.1" fill="none" stroke="#000" stroke-width="1.7"/>
<circle cx="182.5" cy="2266.9" r="5.1" fill="none" stroke="#000" stroke-width="1.7"/>
<circle cx="231" cy="2041.7" r="5.1" fill="none" stroke="#000" stroke-width="1.7"/>
<circle cx="238.5" cy="2071.7" r="5.1" fill="none" stroke="#000" stroke-width="1.7"/>
<circle cx="223.3" cy="2075.8" r="5.1" fill="none" stroke="#000" stroke-width="1.7"/>
<circle cx="223.3" cy="2102.8" r="5.1" fill="none" stroke="#000" stroke-width="1.7"/>
<circle cx="238.5" cy="2117.1" r="5.1" fill="none" stroke="#000" stroke-width="1.7"/>
<circle cx="231" cy="2144.3" r="5.1" fill="none" stroke="#000" stroke-width="1.7"/>
<circle cx="278.1" cy="2226.7" r="5.1" fill="none" stroke="#000" stroke-width="1.7"/>
<circle cx="301.1" cy="2224.5" r="5.1" fill="none" stroke="#000" stroke-width="1.7"/>
<circle cx="289.5" cy="2236.8" r="5.1" fill="none" stroke="#000" stroke-width="1.7"/>
<circle cx="278.1" cy="2264.4" r="5.1" fill="none" stroke="#000" stroke-width="1.7"/>
<circle cx="300.5" cy="2275.2" r="5.1" fill="none" stroke="#000" stroke-width="1.7"/>
<circle cx="289.5" cy="2278.9" r="5.1" fill="none" stroke="#000" stroke-width="1.7"/>
<line x1="231" y1="2077.4" x2="231" y2="2106.4" stroke="#ff0000" stroke-width="3.2" stroke-linecap="round"/>
<line x1="289.5" y1="2241.5" x2="289.5" y2="2260.7" stroke="#ff0000" stroke-width="3.2" stroke-linecap="round"/>
<path d="M232.2 2010.4 V2002.9 H290.7 V2184" fill="none" stroke="#000" stroke-width="1.7" stroke-dasharray="5.8 2.8"/>
<text x="242.7 256.7 270.7" y="2002.8" font-size="20.4" font-family="'DejaVu Sans','Liberation Sans',sans-serif" font-weight="bold" style="stroke-width:.35px">***</text>
<text x="212.5 226.5 240.5" y="2036.7" font-size="20.4" font-family="'DejaVu Sans','Liberation Sans',sans-serif" font-weight="bold" style="stroke-width:.35px">***</text>
<text x="289.5" y="2210.5" font-size="23" text-anchor="middle">ns</text>
<text transform="translate(53.4 2152.2) rotate(-90)" font-size="27.6" font-weight="bold" text-anchor="middle" textLength="228" lengthAdjust="spacingAndGlyphs"><tspan font-style="italic">hmsP</tspan> expression</text>
<text transform="translate(88.7 2152.3) rotate(-90)" font-size="29" text-anchor="middle" textLength="117.7" lengthAdjust="spacingAndGlyphs">(2^-ΔΔCt)</text>
<g transform="translate(186.3 2348.7) rotate(-45)">
<text font-size="26.2" text-anchor="end" style="stroke-width:.2px">WT</text>
</g>
<g transform="translate(244.4 2348.7) rotate(-45)">
<text font-size="26.2" text-anchor="end" style="stroke-width:.2px">ΔcpxA</text>
</g>
<g transform="translate(302.5 2348.7) rotate(-45)">
<text font-size="26.2" text-anchor="end" style="stroke-width:.2px">ΔcpxR</text>
</g>
<rect x="583.45" y="2312.65" width="37.6" height="11.05" fill="#d0d0ce" stroke="#000" stroke-width="1.5"/>
<rect x="641.25" y="2278.35" width="37" height="45.35" fill="#fff" stroke="#000" stroke-width="1.5"/>
<rect x="698.75" y="2061.95" width="37.3" height="261.75" fill="#fff" stroke="#000" stroke-width="1.5"/>
<rect x="572" y="1979.7" width="3.8" height="345.9" fill="#000"/>
<rect x="572" y="2321.8" width="177" height="3.8" fill="#000"/>
<rect x="563.3" y="2321.8" width="10.6" height="3.8" fill="#000"/>
<text x="561" y="2333" font-size="26" text-anchor="end">0</text>
<rect x="567.5" y="2293.47" width="6.4" height="3.4" fill="#000"/>
<rect x="563.3" y="2264.95" width="10.6" height="3.4" fill="#000"/>
<text x="561" y="2275.95" font-size="26" text-anchor="end">5</text>
<rect x="567.5" y="2236.43" width="6.4" height="3.4" fill="#000"/>
<rect x="563.3" y="2207.9" width="10.6" height="3.4" fill="#000"/>
<text x="561" y="2218.9" font-size="26" text-anchor="end">10</text>
<rect x="567.5" y="2179.38" width="6.4" height="3.4" fill="#000"/>
<rect x="563.3" y="2150.85" width="10.6" height="3.4" fill="#000"/>
<text x="561" y="2161.85" font-size="26" text-anchor="end">15</text>
<rect x="567.5" y="2122.33" width="6.4" height="3.4" fill="#000"/>
<rect x="563.3" y="2093.8" width="10.6" height="3.4" fill="#000"/>
<text x="561" y="2104.8" font-size="26" text-anchor="end">20</text>
<rect x="567.5" y="2065.28" width="6.4" height="3.4" fill="#000"/>
<rect x="563.3" y="2036.75" width="10.6" height="3.4" fill="#000"/>
<text x="561" y="2047.75" font-size="26" text-anchor="end">25</text>
<rect x="567.5" y="2008.23" width="6.4" height="3.4" fill="#000"/>
<rect x="563.3" y="1979.7" width="10.6" height="3.4" fill="#000"/>
<text x="561" y="1990.7" font-size="26" text-anchor="end">30</text>
<rect x="600.55" y="2323.7" width="3.3" height="5.9" fill="#000"/>
<rect x="657.75" y="2323.7" width="3.3" height="5.9" fill="#000"/>
<rect x="714.95" y="2323.7" width="3.3" height="5.9" fill="#000"/>
<circle cx="592.9" cy="2312.5" r="5.1" fill="#fff"/>
<circle cx="594.5" cy="2312.5" r="5.1" fill="#fff"/>
<circle cx="598.9" cy="2312.5" r="5.1" fill="#fff"/>
<circle cx="604.3" cy="2312.5" r="5.1" fill="#fff"/>
<circle cx="609.8" cy="2312.5" r="5.1" fill="#fff"/>
<circle cx="611.5" cy="2312.5" r="5.1" fill="#fff"/>
<circle cx="659.7" cy="2267.9" r="5.1" fill="#fff"/>
<circle cx="648.5" cy="2271.9" r="5.1" fill="#fff"/>
<circle cx="671.4" cy="2278.3" r="5.1" fill="#fff"/>
<circle cx="653.1" cy="2282.3" r="5.1" fill="#fff"/>
<circle cx="665.5" cy="2282.9" r="5.1" fill="#fff"/>
<circle cx="659.7" cy="2286.3" r="5.1" fill="#fff"/>
<circle cx="717.2" cy="2014.9" r="5.1" fill="#fff"/>
<circle cx="717.2" cy="2033.2" r="5.1" fill="#fff"/>
<circle cx="709.3" cy="2063" r="5.1" fill="#fff"/>
<circle cx="725.1" cy="2063.6" r="5.1" fill="#fff"/>
<circle cx="724.9" cy="2097.3" r="5.1" fill="#fff"/>
<circle cx="709.3" cy="2100.2" r="5.1" fill="#fff"/>
<path d="M583.45 2323.7 V2312.65 H621.05 V2323.7" fill="none" stroke="#000" stroke-width="1.5"/>
<path d="M641.25 2323.7 V2278.35 H678.25 V2323.7" fill="none" stroke="#000" stroke-width="1.5"/>
<path d="M698.75 2323.7 V2061.95 H736.05 V2323.7" fill="none" stroke="#000" stroke-width="1.5"/>
<circle cx="592.9" cy="2312.5" r="5.1" fill="none" stroke="#000" stroke-width="1.7"/>
<circle cx="594.5" cy="2312.5" r="5.1" fill="none" stroke="#000" stroke-width="1.7"/>
<circle cx="598.9" cy="2312.5" r="5.1" fill="none" stroke="#000" stroke-width="1.7"/>
<circle cx="604.3" cy="2312.5" r="5.1" fill="none" stroke="#000" stroke-width="1.7"/>
<circle cx="609.8" cy="2312.5" r="5.1" fill="none" stroke="#000" stroke-width="1.7"/>
<circle cx="611.5" cy="2312.5" r="5.1" fill="none" stroke="#000" stroke-width="1.7"/>
<circle cx="659.7" cy="2267.9" r="5.1" fill="none" stroke="#000" stroke-width="1.7"/>
<circle cx="648.5" cy="2271.9" r="5.1" fill="none" stroke="#000" stroke-width="1.7"/>
<circle cx="671.4" cy="2278.3" r="5.1" fill="none" stroke="#000" stroke-width="1.7"/>
<circle cx="653.1" cy="2282.3" r="5.1" fill="none" stroke="#000" stroke-width="1.7"/>
<circle cx="665.5" cy="2282.9" r="5.1" fill="none" stroke="#000" stroke-width="1.7"/>
<circle cx="659.7" cy="2286.3" r="5.1" fill="none" stroke="#000" stroke-width="1.7"/>
<circle cx="717.2" cy="2014.9" r="5.1" fill="none" stroke="#000" stroke-width="1.7"/>
<circle cx="717.2" cy="2033.2" r="5.1" fill="none" stroke="#000" stroke-width="1.7"/>
<circle cx="709.3" cy="2063" r="5.1" fill="none" stroke="#000" stroke-width="1.7"/>
<circle cx="725.1" cy="2063.6" r="5.1" fill="none" stroke="#000" stroke-width="1.7"/>
<circle cx="724.9" cy="2097.3" r="5.1" fill="none" stroke="#000" stroke-width="1.7"/>
<circle cx="709.3" cy="2100.2" r="5.1" fill="none" stroke="#000" stroke-width="1.7"/>
<line x1="659.8" y1="2275.8" x2="659.8" y2="2281" stroke="#ff0000" stroke-width="3.2" stroke-linecap="round"/>
<line x1="717.2" y1="2048.8" x2="717.2" y2="2074.9" stroke="#ff0000" stroke-width="3.2" stroke-linecap="round"/>
<path d="M659.4 2224.6 V1965.9 H717.6 V1970.5" fill="none" stroke="#000" stroke-width="1.7" stroke-dasharray="5.8 2.8"/>
<text x="663 677 691 705" y="1967.3" font-size="20.4" font-family="'DejaVu Sans','Liberation Sans',sans-serif" font-weight="bold" style="stroke-width:.35px">****</text>
<text x="690.2 704.2 718.2 732.2" y="2004.6" font-size="20.4" font-family="'DejaVu Sans','Liberation Sans',sans-serif" font-weight="bold" style="stroke-width:.35px">****</text>
<text x="647.7 661.7" y="2252.3" font-size="20.4" font-family="'DejaVu Sans','Liberation Sans',sans-serif" font-weight="bold" style="stroke-width:.35px">**</text>
<text transform="translate(465.5 2152.4) rotate(-90)" font-size="27.6" font-weight="bold" text-anchor="middle" textLength="228" lengthAdjust="spacingAndGlyphs"><tspan font-style="italic">hmsP</tspan> expression</text>
<text transform="translate(500.9 2152.7) rotate(-90)" font-size="29" text-anchor="middle" textLength="116.7" lengthAdjust="spacingAndGlyphs">(2^-ΔΔCt)</text>
<g transform="translate(614.5 2346) rotate(-45)">
<text font-size="26.2" text-anchor="end" style="stroke-width:.2px">ΔcpxR/pMMB208</text>
</g>
<g transform="translate(671 2345) rotate(-45)">
<text font-size="26.2" text-anchor="end" style="stroke-width:.2px">ΔcpxR/pCpxR-WT</text>
</g>
<g transform="translate(693.9 2377.9) rotate(-45)">
<text font-size="26.2" text-anchor="end" style="stroke-width:.2px">ΔcpxR/pCpxR</text>
<text x="0.5" y="7" font-size="19.8">Pneg</text>
</g>
</svg>
</body>
</html>
